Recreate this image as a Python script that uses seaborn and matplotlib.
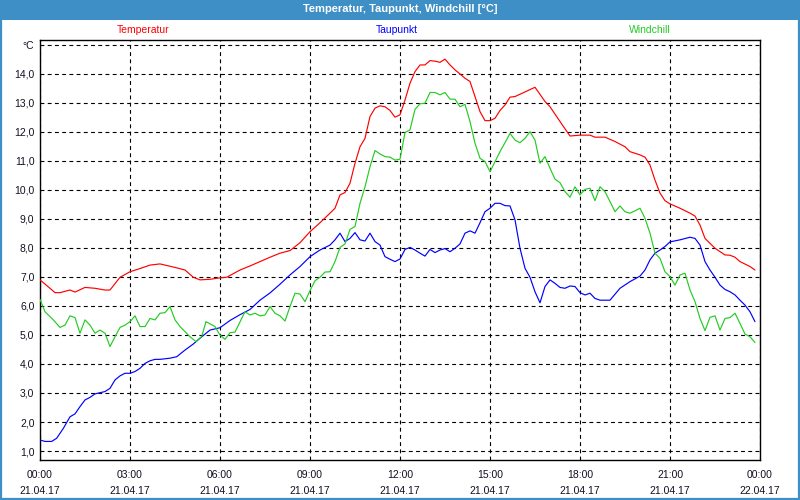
import numpy as np
import pandas as pd
import matplotlib
matplotlib.use("Agg")
import matplotlib.pyplot as plt
from matplotlib.patches import Rectangle
from matplotlib.ticker import MultipleLocator
import seaborn as sns

# ---------------- data ----------------
temp_h = [0.000, 0.333, 0.5, 0.667, 1.0, 1.167, 1.5, 1.833, 2.167, 2.333, 2.667, 3.0, 3.333, 3.667, 4.0,
          4.5, 4.833, 5.111, 5.333, 5.667, 6.0, 6.222, 6.667, 7.0, 7.333, 7.667, 8.0,
          8.333, 8.667, 9.0, 9.333, 9.667, 9.833, 10.0, 10.167, 10.333, 10.5, 10.667, 10.833, 11.0, 11.167,
          11.333, 11.5, 11.667, 11.833, 12.0,
          12.167, 12.333, 12.5, 12.667, 12.833, 13.0, 13.167, 13.333, 13.5, 13.667, 13.833, 14.0, 14.167,
          14.333, 14.5, 14.667, 14.833, 15.0, 15.167, 15.333, 15.5, 15.667, 15.833, 16.0,
          16.5, 16.833, 17.0, 17.333, 17.667, 18.0, 18.333, 18.5, 18.833, 19.167, 19.5, 19.667, 20.0,
          20.167, 20.333, 20.5, 20.667, 20.833, 21.0, 21.333, 21.667, 21.833, 22.0, 22.167, 22.5, 22.833,
          23.0, 23.167, 23.333, 23.667, 23.833]
temp_v = [6.90, 6.61, 6.46, 6.46, 6.55, 6.48, 6.64, 6.61, 6.55, 6.55, 6.99, 7.18, 7.29, 7.41, 7.45,
          7.33, 7.24, 6.99, 6.90, 6.92, 6.97, 6.99, 7.24, 7.38, 7.53, 7.68, 7.82,
          7.91, 8.18, 8.56, 8.87, 9.20, 9.37, 9.83, 9.91, 10.23, 10.92, 11.49, 11.78, 12.53, 12.82,
          12.90, 12.87, 12.74, 12.51, 12.59,
          13.10, 13.68, 14.08, 14.31, 14.31, 14.46, 14.44, 14.40, 14.51, 14.31, 14.14, 14.00, 13.85,
          13.74, 13.22, 12.70, 12.39, 12.39, 12.47, 12.74, 12.93, 13.20, 13.22, 13.30,
          13.54, 13.05, 12.87, 12.36, 11.86, 11.89, 11.89, 11.82, 11.82, 11.67, 11.49, 11.32, 11.21,
          11.13, 10.86, 10.34, 9.89, 9.63, 9.52, 9.37, 9.20, 9.10, 8.79, 8.33, 7.99, 7.76,
          7.75, 7.68, 7.53, 7.36, 7.24]

dew_h = [0, 0.167, 0.389, 0.556, 0.778, 1.0, 1.167, 1.333, 1.5, 1.667, 1.833, 2.0, 2.167, 2.333, 2.5,
         2.667, 2.833, 3.0, 3.167, 3.333, 3.5, 3.667, 3.833, 4.0, 4.333, 4.556, 4.833, 5.111, 5.333,
         5.667, 6.0, 6.333, 6.667, 7.0, 7.333, 7.667, 8.0, 8.333, 8.667, 9.0, 9.333, 9.667, 9.833,
         10.0, 10.167, 10.333, 10.5, 10.667, 10.833, 11.0, 11.167, 11.333, 11.5, 11.667, 11.833, 12.0,
         12.167, 12.333, 12.5, 12.667, 12.833, 13.0, 13.167, 13.333, 13.5, 13.667, 13.833, 14.0, 14.167,
         14.333, 14.5, 14.667, 14.833, 15.0, 15.167, 15.333, 15.5, 15.667, 15.833, 16.0, 16.167, 16.333,
         16.5, 16.667, 16.833, 17.0, 17.167, 17.333, 17.5, 17.667, 17.833, 18.0, 18.167, 18.333, 18.5,
         18.667, 19.0, 19.333, 19.667, 20.0, 20.167, 20.333, 20.5, 20.667, 20.833, 21.0, 21.333, 21.667,
         21.833, 22.0, 22.167, 22.333, 22.5, 22.667, 22.833, 23.0, 23.167, 23.333, 23.5, 23.667, 23.833]
dew_v = [1.38, 1.33, 1.33, 1.44, 1.78, 2.18, 2.28, 2.53, 2.76, 2.85, 2.97, 3.01, 3.05, 3.16, 3.45,
         3.59, 3.68, 3.68, 3.74, 3.85, 4.02, 4.11, 4.16, 4.16, 4.20, 4.25, 4.48, 4.69, 4.89,
         5.17, 5.25, 5.50, 5.70, 5.88, 6.20, 6.45, 6.75, 7.07, 7.36, 7.70, 7.93, 8.10, 8.28,
         8.51, 8.22, 8.33, 8.53, 8.28, 8.24, 8.51, 8.22, 8.10, 7.70, 7.61, 7.53, 7.62,
         7.95, 8.02, 7.93, 7.82, 7.72, 7.95, 7.84, 7.93, 7.98, 7.87, 7.99, 8.14, 8.51,
         8.59, 8.51, 8.87, 9.25, 9.37, 9.54, 9.54, 9.46, 9.45, 8.97, 7.99, 7.30, 6.99,
         6.49, 6.11, 6.67, 6.90, 6.78, 6.64, 6.61, 6.69, 6.67, 6.46, 6.38, 6.44, 6.26,
         6.20, 6.20, 6.61, 6.84, 7.03, 7.24, 7.59, 7.82, 7.93, 8.05, 8.21, 8.28, 8.37,
         8.33, 8.10, 7.53, 7.24, 6.99, 6.72, 6.57, 6.49, 6.38, 6.20, 6.03, 5.80, 5.46]

wind_h = [0, 0.167, 0.444, 0.667, 0.833, 1.0, 1.167, 1.333, 1.5, 1.667, 1.833, 2.0, 2.167, 2.333, 2.5,
          2.667, 2.833, 3.0, 3.167, 3.333, 3.5, 3.667, 3.833, 4.0, 4.167, 4.333, 4.5, 4.667, 5.0, 5.2,
          5.389, 5.533, 5.833, 6.0, 6.167, 6.333, 6.5, 6.833, 7.0, 7.167, 7.333, 7.5, 7.667, 7.833, 8.0,
          8.167, 8.333, 8.5, 8.667, 8.833, 9.0, 9.167, 9.333, 9.5, 9.667, 9.833, 10.0, 10.167, 10.333,
          10.5, 10.667, 10.833, 11.0, 11.167, 11.333, 11.5, 11.667, 11.833, 12.0, 12.167, 12.333, 12.5,
          12.667, 12.833, 13.0, 13.167, 13.333, 13.5, 13.667, 13.833, 14.0, 14.167, 14.333, 14.5, 14.667,
          14.833, 15.0, 15.167, 15.333, 15.5, 15.667, 15.833, 16.0, 16.167, 16.333, 16.5, 16.667, 16.833,
          17.0, 17.167, 17.333, 17.5, 17.667, 17.833, 18.0, 18.167, 18.333, 18.5, 18.667, 18.833, 19.0,
          19.167, 19.333, 19.5, 19.667, 19.833, 20.0, 20.167, 20.333, 20.5, 20.667, 20.833, 21.0, 21.167,
          21.333, 21.5, 21.667, 21.833, 22.0, 22.167, 22.333, 22.5, 22.667, 22.833, 23.0, 23.167, 23.333,
          23.5, 23.667, 23.833]
wind_v = [6.23, 5.80, 5.52, 5.26, 5.34, 5.66, 5.60, 5.06, 5.52, 5.34, 5.06, 5.17, 5.06, 4.60, 4.94,
          5.26, 5.34, 5.46, 5.66, 5.29, 5.29, 5.57, 5.52, 5.75, 5.77, 5.98, 5.52, 5.29, 4.94, 4.77,
          4.94, 5.46, 5.29, 5.00, 4.85, 5.08, 5.10, 5.80, 5.69, 5.75, 5.66, 5.69, 5.98, 5.75, 5.66,
          5.48, 5.98, 6.44, 6.41, 6.15, 6.53, 6.87, 6.99, 7.17, 7.18, 7.53, 8.02, 8.14, 8.64,
          8.74, 9.54, 10.11, 10.80, 11.36, 11.24, 11.15, 11.13, 11.03, 11.06, 11.98, 12.07, 12.78,
          12.97, 12.99, 13.36, 13.36, 13.28, 13.36, 13.13, 13.13, 12.87, 12.95, 12.36, 11.61, 11.09,
          10.98, 10.63, 10.98, 11.32, 11.63, 11.95, 11.72, 11.63, 11.78, 12.01, 11.72, 10.92, 11.15,
          10.75, 10.37, 10.25, 9.94, 9.75, 10.11, 9.83, 10.02, 10.06, 9.63, 10.11, 9.94, 9.60,
          9.25, 9.45, 9.25, 9.20, 9.28, 9.37, 9.02, 8.51, 7.82, 7.64, 7.18, 7.01, 6.72,
          7.07, 7.13, 6.55, 6.15, 5.57, 5.15, 5.61, 5.66, 5.17, 5.57, 5.60, 5.75, 5.40,
          5.03, 4.94, 4.74]

series_names = ["Temperatur", "Taupunkt", "Windchill"]
series_colors = ["#ff0000", "#0000ff", "#22cc22"]

x_tick_hours = [0, 3, 6, 9, 12, 15, 18, 21, 24]
x_tick_times = ["00:00", "03:00", "06:00", "09:00", "12:00", "15:00", "18:00", "21:00", "00:00"]
x_tick_dates = ["21.04.17"] * 8 + ["22.04.17"]
y_tick_values = list(range(1, 16))
y_tick_labels = [f"{v},0" for v in range(1, 15)] + ["°C"]

title = "Temperatur, Taupunkt, Windchill [°C]"

# ---------------- figure ----------------
sns.set_style("white")
plt.rcParams["font.family"] = ["Liberation Sans", "DejaVu Sans"]

df = pd.concat([
    pd.DataFrame({"hour": temp_h, "value": temp_v, "series": series_names[0]}),
    pd.DataFrame({"hour": dew_h, "value": dew_v, "series": series_names[1]}),
    pd.DataFrame({"hour": wind_h, "value": wind_v, "series": series_names[2]}),
], ignore_index=True)

fig = plt.figure(figsize=(8, 5), dpi=100)
fig.patch.set_facecolor("white")
ax = fig.add_axes([0.05, 0.08, 0.90, 0.84])

palette = dict(zip(series_names, series_colors))
sns.lineplot(data=df, x="hour", y="value", hue="series", palette=palette,
             estimator=None, sort=False, legend=False, linewidth=0.85, ax=ax, zorder=3)

ax.set_xlim(0, 24)
ax.set_ylim(0.69, 15.17)
ax.set_xlabel("")
ax.set_ylabel("")

ax.set_xticks(x_tick_hours)
ax.set_xticklabels([f"{t}\n{d}" for t, d in zip(x_tick_times, x_tick_dates)],
                   fontsize=7.5, color="#111122", linespacing=1.75)
ax.xaxis.set_minor_locator(MultipleLocator(1))
ax.set_yticks(y_tick_values)
ax.set_yticklabels(y_tick_labels, fontsize=7.5, color="#111122")

ax.tick_params(axis="x", which="major", direction="out", length=4, width=0.8,
               color="black", pad=3)
ax.tick_params(axis="x", which="minor", direction="out", length=4, width=0.8, color="black")
ax.tick_params(axis="y", which="both", length=0, pad=4)

ax.grid(True, which="major", axis="both", color="black", linestyle=(0, (3.5, 3)),
        linewidth=0.8)
ax.set_axisbelow(True)
for sp in ax.spines.values():
    sp.set_visible(True)
    sp.set_color("black")
    sp.set_linewidth(1.0)

# title bar
fig.patches.append(Rectangle((0, 1 - 20 / 500), 1, 20 / 500, transform=fig.transFigure,
                             facecolor="#3d8fc6", edgecolor="none", zorder=0))
fig.text(0.5, 1 - 9.5 / 500, title, ha="center", va="center", color="white",
         fontsize=8, fontweight="bold")
# outer frame
fig.patches.append(Rectangle((0.0015, 0.002), 0.997, 0.99, transform=fig.transFigure,
                             facecolor="none", edgecolor="#3d8fc6", linewidth=1.6, zorder=0))

# series labels above the plot
label_x = [143 / 800, 397 / 800, 650 / 800]
for name, col, lx in zip(series_names, series_colors, label_x):
    fig.text(lx, 1 - 30 / 500, name, ha="center", va="center", color=col, fontsize=7.5)

fig.savefig("out.png", dpi=100)
